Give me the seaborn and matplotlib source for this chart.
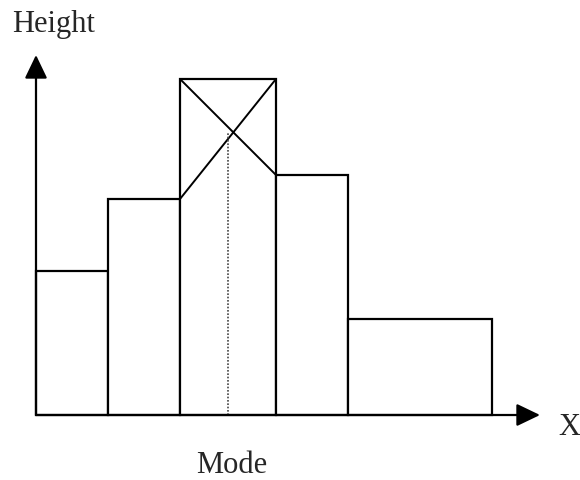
import numpy as np
import matplotlib
matplotlib.use("Agg")
import matplotlib.pyplot as plt
import seaborn as sns

# ==================================
# DATA
# ==================================

bin_edges = [0, 3, 6, 10, 13, 19]
heights = [6, 9, 14, 10, 4]
modal_bin = 2

# ==================================
# STYLE
# ==================================

sns.set_style("white")
plt.rcParams["font.family"] = ["Liberation Serif", "DejaVu Serif"]

fig = plt.figure(figsize=(5.8, 4.81), dpi=100)
ax = fig.add_axes([0, 0, 1, 1])

centers = [(a + b) / 2 for a, b in zip(bin_edges[:-1], bin_edges[1:])]

sns.histplot(
    x=centers,
    weights=heights,
    bins=bin_edges,
    stat="count",
    color="white",
    edgecolor="black",
    linewidth=1.6,
    alpha=1,
    ax=ax
)

# ==================================
# MODE CONSTRUCTION
# ==================================

x0 = bin_edges[modal_bin]
x1 = bin_edges[modal_bin + 1]
h_prev = heights[modal_bin - 1]
h_mode = heights[modal_bin]
h_next = heights[modal_bin + 1]

ax.plot([x0, x1], [h_prev, h_mode], color="black", lw=1.4)
ax.plot([x0, x1], [h_mode, h_next], color="black", lw=1.4)

# intersection of the two diagonals
d1 = h_mode - h_prev
d2 = h_mode - h_next
t = d1 / (d1 + d2)
y_cross = h_prev + d1 * t
x_mid = (x0 + x1) / 2

ax.plot([x_mid, x_mid], [0, y_cross], color="#444444", lw=1.2, ls=(0, (1, 1)))

# ==================================
# AXES WITH ARROWS
# ==================================

arrow_kw = dict(
    arrowstyle="-|>,head_length=1.0,head_width=0.48",
    mutation_scale=14.4,
    color="black",
    lw=1.6,
    shrinkA=0,
    shrinkB=0
)

ax.annotate("", xy=(0, 15), xytext=(0, 0), arrowprops=arrow_kw)
ax.annotate("", xy=(21, 0), xytext=(0, 0), arrowprops=arrow_kw)

ax.set_xlim(-1.5, 22.667)
ax.set_ylim(-2.708, 17.333)
ax.axis("off")

# ==================================
# LABELS
# ==================================

fig.text(12 / 580, 1 - 32 / 481, "Height", fontsize=22, va="baseline", ha="left")
fig.text(558 / 580, 1 - 435 / 481, "X", fontsize=22, va="baseline", ha="left")
ax.text(x_mid + 0.15, -2.375, "Mode", fontsize=22, va="baseline", ha="center")

plt.savefig("out.png", dpi=100)
